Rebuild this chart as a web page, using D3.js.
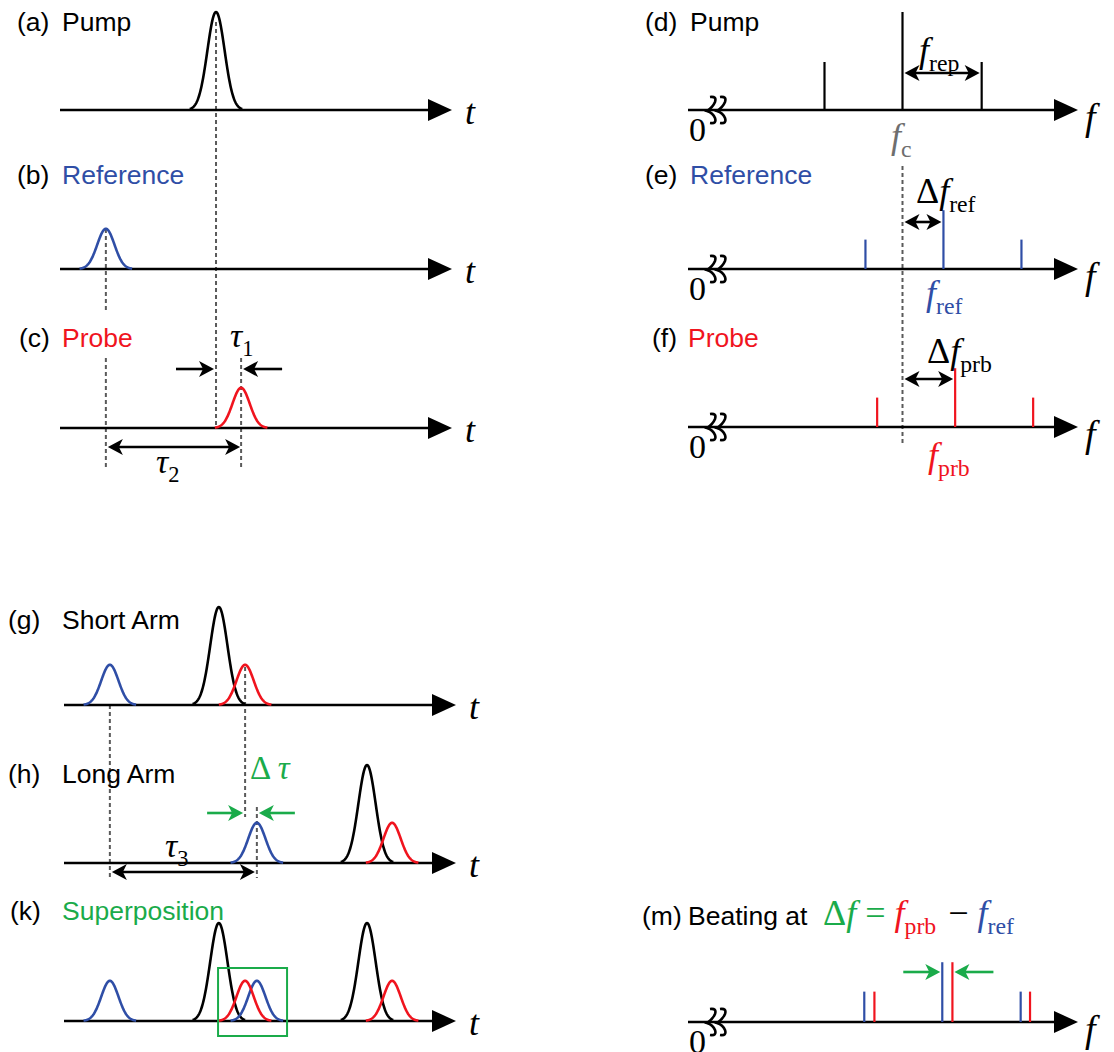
<!DOCTYPE html>
<html>
<head>
<meta charset="utf-8">
<script src="https://cdn.jsdelivr.net/npm/d3@7"></script>
<style>
  body { margin: 0; background: #fff; }
  text { font-family: "Liberation Sans", Arial, sans-serif; }
  .math { font-family: "Liberation Serif", "Times New Roman", serif; }
</style>
</head>
<body>
<script>
(function () {

    // ---- data -------------------------------------------------------------
    // time-domain pulses: [kind, centre (time units), relative height]
    var pulsesA = [["pump", 39.8, 1]];
    var pulsesB = [["ref", 11.7, 0.41]];
    var pulsesC = [["prb", 46.2, 0.41]];
    var pulsesG = [["ref", 11.7, 0.41], ["pump", 39.5, 1], ["prb", 46.2, 0.41]];
    var pulsesH = [["ref", 49.2, 0.41], ["pump", 77.3, 1], ["prb", 83.7, 0.41]];
    var pulsesK = [["ref", 11.7, 0.41], ["pump", 39.5, 1], ["ref", 49.2, 0.41],
                   ["prb", 46.2, 0.41], ["pump", 77.3, 1], ["prb", 83.7, 0.41]];

    // frequency combs: [frequency offset from f_c, relative height]
    var combPump = [[-20, 0.49], [0, 1], [20.3, 0.49]];
    var combRef = [[-9.5, 0.3], [10.5, 0.6], [30.5, 0.3]];
    var combPrb = [[-6.5, 0.3], [13.5, 0.6], [33.5, 0.3]];
    var combBeatRef = [[-9.8, 0.31], [10.2, 0.61], [30.3, 0.31]];
    var combBeatPrb = [[-7.2, 0.31], [12.8, 0.61], [32.7, 0.31]];

    var panelTags = ["(a)", "(b)", "(c)", "(d)", "(e)", "(f)", "(g)", "(h)", "(k)", "(m)"];
    var panelNames = ["Pump", "Reference", "Probe", "Pump", "Reference", "Probe",
                      "Short Arm", "Long Arm", "Superposition", "Beating at"];

    var colors = { pump: "#000000", ref: "#2f4ea6", prb: "#f0141e", delta: "#1aab4a", grey: "#6e6e6e" };

    var svg = d3.select("body").append("svg")
        .attr("width", 1114)
        .attr("height", 1052);

    //scales
    var xUp = d3.scaleLinear().domain([0, 100]).range([60, 452]);
    var xLow = d3.scaleLinear().domain([0, 100]).range([64, 456]);
    var xF = d3.scaleLinear().domain([-55, 45]).range([688, 1078]);
    var hAmp = d3.scaleLinear().domain([0, 1]).range([0, 98]);
    var pulseHalf = 6.7, pulseSigma = 2.2;

    // ---- helpers ---------------------------------------------------------
    function axis(x0, x1, y) {
        svg.append("line")
            .attr("x1", x0).attr("x2", x1 - 20)
            .attr("y1", y).attr("y2", y)
            .attr("stroke", "#000").attr("stroke-width", 2.6);
        svg.append("path")
            .attr("d", "M" + x1 + "," + y + "L" + (x1 - 24) + "," + (y - 11) + "L" + (x1 - 24) + "," + (y + 11) + "Z")
            .attr("fill", "#000");
    }

    function head(x, y, dir, col) {
        //dir = 1 points right, -1 points left
        var L = 15, H = 8, N = 4;
        svg.append("path")
            .attr("d", "M" + x + "," + y +
                "L" + (x - dir * L) + "," + (y - H) +
                "L" + (x - dir * (L - N)) + "," + y +
                "L" + (x - dir * L) + "," + (y + H) + "Z")
            .attr("fill", col || "#000");
    }

    function arrow(xFrom, xTip, y, col) {
        var dir = xTip > xFrom ? 1 : -1;
        svg.append("line")
            .attr("x1", xFrom).attr("x2", xTip - dir * 8)
            .attr("y1", y).attr("y2", y)
            .attr("stroke", col || "#000").attr("stroke-width", 2.6);
        head(xTip, y, dir, col);
    }

    function doubleArrow(xa, xb, y) {
        svg.append("line")
            .attr("x1", xa + 8).attr("x2", xb - 8)
            .attr("y1", y).attr("y2", y)
            .attr("stroke", "#000").attr("stroke-width", 2.6);
        head(xa, y, -1);
        head(xb, y, 1);
    }

    function dashed(x, y0, y1) {
        svg.append("line")
            .attr("x1", x).attr("x2", x)
            .attr("y1", y0).attr("y2", y1)
            .attr("stroke", "#5a5a5a").attr("stroke-width", 2)
            .attr("stroke-dasharray", "4,3");
    }

    function label(i, xTag, xName, y, nameCol) {
        svg.append("text").attr("x", xTag).attr("y", y)
            .attr("font-size", 26.5).text(panelTags[i]);
        svg.append("text").attr("x", xName).attr("y", y)
            .attr("font-size", 26.5).attr("fill", nameCol || "#000").text(panelNames[i]);
    }

    // parts: [text, italic, subscript text, colour]
    function math(x, y, parts, col, size) {
        size = size || 34;
        var t = svg.append("text").attr("class", "math")
            .attr("x", x).attr("y", y)
            .attr("fill", col || "#000")
            .attr("font-size", size);
        parts.forEach(function (p) {
            var s = t.append("tspan").text(p[0]);
            if (p[1]) s.attr("font-style", "italic");
            if (p[3]) s.attr("fill", p[3]);
            if (p[2]) {
                t.append("tspan").attr("dy", size * 0.26)
                    .attr("font-size", size * 0.66)
                    .attr("fill", p[3] || null)
                    .text(p[2]);
                t.append("tspan").attr("dy", -size * 0.26).text("\u200a");
            }
        });
        return t;
    }

    //the "3"-like double break mark on the frequency axis
    function breakMark(x, y) {
        [0, 10].forEach(function (dx) {
            var a = x + dx;
            var d = "M" + (a + 1) + "," + (y - 13) +
                "Q" + (a + 8) + "," + (y - 14) + " " + (a + 6) + "," + (y - 8) +
                "Q" + (a + 4) + "," + (y - 3) + " " + (a - 2) + "," + (y + 1) +
                "Q" + (a + 4) + "," + (y + 3) + " " + (a + 6) + "," + (y + 8) +
                "Q" + (a + 8) + "," + (y + 14) + " " + (a + 1) + "," + (y + 13);
            svg.append("path")
                .attr("d", d)
                .attr("fill", "none").attr("stroke", "#000").attr("stroke-width", 2.6);
        });
    }

    function pulses(list, xs, axisY) {
        list.forEach(function (p) {
            var pts = d3.range(-pulseHalf, pulseHalf + 0.001, 0.1).map(function (dt) {
                var v = p[2] * Math.exp(-dt * dt / (2 * pulseSigma * pulseSigma));
                return [xs(p[1] + dt), axisY - hAmp(v)];
            });
            svg.append("path")
                .attr("d", d3.line()(pts))
                .attr("fill", "none")
                .attr("stroke", colors[p[0]])
                .attr("stroke-width", 2.6);
        });
    }

    function comb(list, kind, axisY) {
        svg.selectAll(null)
            .data(list)
            .enter()
            .append("line")
            .attr("x1", function (d) { return xF(d[0]); })
            .attr("x2", function (d) { return xF(d[0]); })
            .attr("y1", axisY)
            .attr("y2", function (d) { return axisY - hAmp(d[1]); })
            .attr("stroke", colors[kind])
            .attr("stroke-width", 2.2);
    }

    function timeAxis(xs, y) {
        axis(xs.range()[0], xs.range()[1], y);
        math(xs.range()[1] + 13, y + 14, [["t", true]], "#000", 36);
    }

    function freqAxis(y) {
        axis(xF.range()[0], xF.range()[1], y);
        breakMark(709, y);
        math(689, y + 31, [["0"]]);
        math(1085, y + 20, [["f", true]], "#000", 38);
    }

    // ---- time domain, upper -------------------------------------------------
    var yA = 110, yB = 269, yC = 428;
    dashed(xUp(pulsesA[0][1]), 22, yC);
    dashed(xUp(pulsesB[0][1]), yB - 40, 310);
    dashed(xUp(pulsesB[0][1]), 358, 467);
    dashed(xUp(pulsesC[0][1]), 358, 467);

    label(0, 17, 62, 31);
    label(1, 17, 62, 184, colors.ref);
    label(2, 19, 62, 347, colors.prb);

    timeAxis(xUp, yA);
    timeAxis(xUp, yB);
    timeAxis(xUp, yC);
    pulses(pulsesA, xUp, yA);
    pulses(pulsesB, xUp, yB);
    pulses(pulsesC, xUp, yC);

    //tau1 and tau2
    var xPump = xUp(pulsesA[0][1]), xProbe = xUp(pulsesC[0][1]), xRef = xUp(pulsesB[0][1]);
    arrow(xPump - 40, xPump - 2, 369);
    arrow(xProbe + 41, xProbe + 2, 369);
    math(230, 347, [["\u03c4", true, "1"]]);
    doubleArrow(xRef + 2, xProbe - 1, 447);
    math(156, 473, [["\u03c4", true, "2"]]);

    // ---- frequency domain -----------------------------------------------------
    var yD = 110, yE = 269, yF = 427;
    dashed(xF(0), 166, 445);

    label(3, 645, 690, 31);
    label(4, 645, 690, 184, colors.ref);
    label(5, 652, 688, 347, colors.prb);

    freqAxis(yD);
    freqAxis(yE);
    freqAxis(yF);
    comb(combPump, "pump", yD);
    comb(combRef, "ref", yE);
    comb(combPrb, "prb", yF);

    doubleArrow(xF(0) + 2, xF(combPump[2][0]) - 2, 73);
    math(919, 62, [["f", true, "rep"]], "#000", 36);
    math(891, 148, [["f", true, "c"]], colors.grey, 36);

    doubleArrow(xF(0) + 2, xF(combRef[1][0]) - 2, 222);
    math(916, 203, [["\u0394"], ["f", true, "ref"]], "#000", 36);
    math(926, 305, [["f", true, "ref"]], colors.ref, 36);

    doubleArrow(xF(0) + 2, xF(combPrb[1][0]) - 2, 379);
    math(927, 363, [["\u0394"], ["f", true, "prb"]], "#000", 36);
    math(928, 467, [["f", true, "prb"]], colors.prb, 36);

    // ---- time domain, lower -----------------------------------------------------
    var yG = 705, yH = 863, yK = 1021;
    var xRefG = xLow(pulsesG[0][1]), xPrbG = xLow(pulsesG[2][1]), xRefH = xLow(pulsesH[0][1]);
    dashed(xRefG, yG, 878);
    dashed(xPrbG, yG - 38, 817);
    dashed(xRefH, 807, 878);

    label(6, 8, 62, 629);
    label(7, 8, 62, 783);
    label(8, 10, 62, 920, colors.delta);

    timeAxis(xLow, yG);
    timeAxis(xLow, yH);
    timeAxis(xLow, yK);
    pulses(pulsesG, xLow, yG);
    pulses(pulsesH, xLow, yH);
    pulses(pulsesK, xLow, yK);

    arrow(xPrbG - 38, xPrbG - 2, 813, colors.delta);
    arrow(xRefH + 38, xRefH + 2, 813, colors.delta);
    math(250, 779, [["\u0394 "], ["\u03c4", true]], colors.delta, 33);
    doubleArrow(xRefG + 2, xRefH - 2, 872);
    math(165, 857, [["\u03c4", true, "3"]]);

    svg.append("rect")
        .attr("x", xLow(39.3)).attr("y", 968)
        .attr("width", 69).attr("height", 68)
        .attr("fill", "none").attr("stroke", colors.delta).attr("stroke-width", 2);

    // ---- beating ------------------------------------------------------------
    var yM = 1022;
    label(9, 642, 688, 925);
    math(823, 925, [["\u0394", false, null, colors.delta], ["f", true, null, colors.delta],
        [" = ", false, null, colors.delta], ["f", true, "prb", colors.prb], [" \u2212 "],
        ["f", true, "ref", colors.ref]], "#000", 36);

    freqAxis(yM);
    comb(combBeatRef, "ref", yM);
    comb(combBeatPrb, "prb", yM);
    arrow(xF(combBeatRef[1][0]) - 39, xF(combBeatRef[1][0]) - 2, 972, colors.delta);
    arrow(xF(combBeatPrb[1][0]) + 41, xF(combBeatPrb[1][0]) + 2, 972, colors.delta);
})();
</script>
</body>
</html>
